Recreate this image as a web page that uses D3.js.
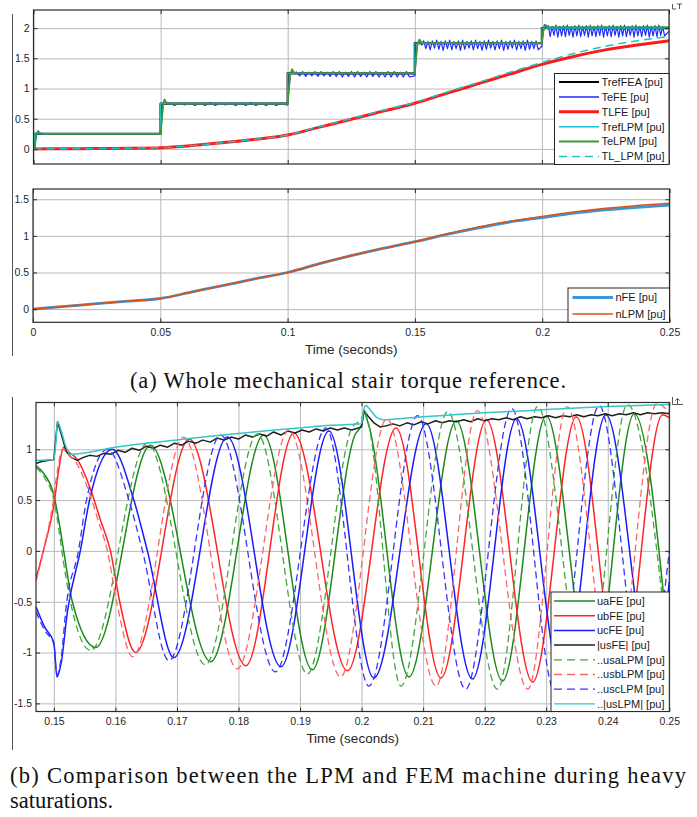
<!DOCTYPE html>
<html><head><meta charset="utf-8">
<script src="https://cdn.jsdelivr.net/npm/d3@7"></script>
<style>
html,body{margin:0;padding:0;background:#fff;}
svg{display:block;}
.tk{font-family:Arial,"Liberation Sans",Helvetica,sans-serif;font-size:10.5px;fill:#262626;}
.lg{font-family:Arial,"Liberation Sans",Helvetica,sans-serif;font-size:11px;fill:#1a1a1a;}
.xl{font-family:Arial,"Liberation Sans",Helvetica,sans-serif;font-size:13.5px;fill:#262626;}
.cap{font-family:"Liberation Serif","Times New Roman",serif;font-size:22.5px;fill:#111;}
</style>
</head><body>
<svg id="fig" width="697" height="817"></svg>
<script>
// ================= DATA =================
// ---- (a) top: torque [pu] vs time [s]
const refTimes  = [0, 0.0004, 0.05, 0.1, 0.15, 0.2, 0.25];
const refLevels = [0, 0.25, 0.75, 1.25, 1.75, 2.0, 2.0];
const teLPM = [[0,0],[0.0005,0.05],[0.0012,0.25],[0.0018,0.29],[0.0025,0.26],[0.004,0.25],[0.05,0.25],[0.0505,0.5],[0.051,0.72],[0.0515,0.82],[0.0522,0.77],[0.053,0.75],[0.1,0.75],[0.1005,1.0],[0.101,1.22],[0.1017,1.32],[0.1024,1.27],[0.103,1.255],[0.15,1.255],[0.1505,1.5],[0.151,1.72],[0.1518,1.81],[0.1525,1.77],[0.153,1.75],[0.2,1.75],[0.2005,1.92],[0.201,2.03],[0.2015,2.05],[0.2022,2.02],[0.203,2.015],[0.25,2.015]];
// TeFE (blue): transitions + ripple segments (values read per half-ripple)
const teFE_trans = [[0,0],[0.0005,0.06],[0.0012,0.25],[0.0018,0.30],[0.0025,0.25],[0.03,0.25],[0.031,0.24],[0.032,0.25],[0.05,0.25],[0.0505,0.5],[0.051,0.74],[0.0516,0.81],[0.0524,0.76],[0.1,0.73],[0.1005,1.0],[0.101,1.22],[0.1017,1.31],[0.1026,1.26],[0.15,1.21],[0.1505,1.5],[0.151,1.74],[0.1517,1.80],[0.1527,1.72],[0.2,1.70],[0.2005,1.95],[0.201,2.06],[0.2018,2.0],[0.25,1.95]];
const teFE_segStart = [0.0535, 0.1035, 0.1535, 0.2025];
const teFE_segStep  = [0.002, 0.0012, 0.00085, 0.00075];
const teFE_seg1 = [0.76,0.72,0.76,0.73,0.76,0.72,0.76,0.72,0.77,0.72,0.76,0.73,0.76,0.72,0.76,0.72,0.77,0.72,0.76,0.72,0.76,0.72,0.76,0.73];
const teFE_seg2 = [1.27,1.21,1.28,1.20,1.27,1.21,1.28,1.20,1.28,1.21,1.27,1.20,1.28,1.20,1.28,1.19,1.27,1.20,1.28,1.19,1.28,1.20,1.27,1.19,1.28,1.20,1.28,1.19,1.27,1.19,1.28,1.19,1.28,1.19,1.27,1.19,1.28,1.19];
const teFE_seg3 = [1.79,1.66,1.78,1.64,1.79,1.67,1.80,1.65,1.78,1.63,1.79,1.66,1.80,1.64,1.78,1.66,1.79,1.63,1.80,1.65,1.78,1.67,1.79,1.64,1.80,1.66,1.78,1.63,1.79,1.65,1.80,1.67,1.78,1.64,1.79,1.66,1.80,1.63,1.78,1.65,1.79,1.67,1.80,1.64,1.78,1.66,1.79,1.63,1.80,1.65,1.78,1.66,1.79,1.64];
const teFE_seg4 = [2.04,1.86,2.03,1.88,2.05,1.85,2.03,1.87,2.04,1.86,2.05,1.88,2.03,1.85,2.04,1.87,2.05,1.86,2.03,1.88,2.04,1.85,2.05,1.87,2.03,1.86,2.04,1.88,2.05,1.85,2.03,1.87,2.04,1.86,2.05,1.88,2.03,1.85,2.04,1.87,2.05,1.86,2.03,1.88,2.04,1.85,2.05,1.87,2.03,1.86,2.04,1.88,2.05,1.85,2.03,1.87,2.04,1.86,2.05,1.88,2.03,1.87];
// load torque
const tlTimes = [0,0.0125,0.025,0.0375,0.05,0.0625,0.075,0.0875,0.1,0.1125,0.125,0.1375,0.15,0.1625,0.175,0.1875,0.2,0.2125,0.225,0.2375,0.25];
const tlFE    = [0,0.002,0.005,0.011,0.02,0.055,0.105,0.16,0.23,0.36,0.49,0.625,0.755,0.92,1.08,1.24,1.40,1.53,1.64,1.72,1.79];
const tlLPM   = [0,0.002,0.005,0.011,0.02,0.055,0.105,0.16,0.23,0.37,0.50,0.64,0.77,0.94,1.10,1.27,1.43,1.58,1.70,1.79,1.86];
// ---- (a) bottom: speed [pu]
const nTimes = [0,0.0125,0.025,0.0375,0.05,0.0625,0.075,0.0875,0.1,0.1125,0.125,0.1375,0.15,0.1625,0.175,0.1875,0.2,0.2125,0.225,0.2375,0.25];
const nFE    = [0,0.037,0.074,0.11,0.145,0.235,0.325,0.415,0.50,0.62,0.73,0.83,0.92,1.02,1.11,1.19,1.25,1.31,1.355,1.39,1.42];
const nLPM   = [0,0.037,0.074,0.11,0.145,0.235,0.325,0.415,0.50,0.62,0.73,0.83,0.92,1.025,1.12,1.20,1.265,1.325,1.375,1.415,1.445];
// ---- (b) phase voltages [pu] : [time, value] read at extremes / key points
const uaFE = [[0.1471,0.84],[0.1485,0.75],[0.15,0.55],[0.1508,0.30],[0.1516,0.0],[0.153,-0.5],[0.1568,-0.95],[0.1657,1.04],[0.1755,-1.09],[0.1841,1.14],[0.192,-1.17],[0.199,1.15],[0.2,1.24],[0.2004,1.36],[0.201,1.27],[0.2077,-1.24],[0.2154,1.28],[0.2229,-1.28],[0.23,1.33],[0.2375,-1.33],[0.2443,1.35],[0.25,-1.0]];
const ubFE = [[0.1471,-0.27],[0.1485,0.05],[0.15,0.45],[0.1508,0.80],[0.1516,1.02],[0.1525,0.97],[0.1538,0.90],[0.156,0.60],[0.1576,0.30],[0.1592,0.0],[0.1607,-0.5],[0.1633,-1.0],[0.172,1.10],[0.1812,-1.13],[0.189,1.16],[0.1977,-1.18],[0.2056,1.21],[0.2129,-1.25],[0.2203,1.29],[0.2278,-1.29],[0.2349,1.32],[0.242,-1.33],[0.2489,1.34],[0.25,1.31]];
const ucFE = [[0.1471,-0.55],[0.1485,-0.75],[0.15,-0.90],[0.1505,-1.24],[0.1512,-1.10],[0.1522,-0.60],[0.1543,0.0],[0.1558,0.5],[0.1595,1.0],[0.163,0.5],[0.1652,0.0],[0.1695,-1.05],[0.1782,1.12],[0.1869,-1.14],[0.1947,1.18],[0.202,-1.25],[0.2105,1.25],[0.218,-1.26],[0.2252,1.30],[0.2327,-1.32],[0.2397,1.34],[0.2474,-1.34],[0.25,-0.3]];
const usFEabs = [[0.1471,0.86],[0.148,0.88],[0.149,0.89],[0.15,0.90],[0.1503,1.10],[0.1506,1.27],[0.1512,1.15],[0.152,0.98],[0.1528,0.92],[0.1538,0.89],[0.1548,0.92],[0.1558,0.94],[0.157,0.93],[0.1581,0.96],[0.1593,0.95],[0.1604,0.99],[0.1616,0.97],[0.1627,1.01],[0.1639,0.99],[0.165,1.03],[0.1662,1.01],[0.1673,1.04],[0.1685,1.02],[0.1696,1.06],[0.1708,1.04],[0.1719,1.08],[0.1731,1.06],[0.1742,1.09],[0.1754,1.07],[0.1765,1.11],[0.1777,1.09],[0.1788,1.12],[0.18,1.10],[0.1811,1.14],[0.1823,1.12],[0.1834,1.15],[0.1846,1.13],[0.1857,1.17],[0.1869,1.14],[0.188,1.18],[0.1892,1.16],[0.1903,1.19],[0.1915,1.17],[0.1926,1.20],[0.1938,1.18],[0.1949,1.21],[0.1961,1.19],[0.1972,1.21],[0.1984,1.19],[0.1995,1.21],[0.2,1.22],[0.2004,1.38],[0.201,1.33],[0.202,1.26],[0.203,1.22],[0.204,1.23],[0.2051,1.25],[0.2062,1.23],[0.2074,1.26],[0.2085,1.24],[0.2097,1.27],[0.2108,1.25],[0.212,1.28],[0.2131,1.26],[0.2143,1.28],[0.2154,1.27],[0.2166,1.29],[0.2177,1.27],[0.2189,1.30],[0.22,1.28],[0.2212,1.30],[0.2223,1.29],[0.2235,1.31],[0.2246,1.29],[0.2258,1.32],[0.2269,1.30],[0.2281,1.32],[0.2292,1.31],[0.2304,1.33],[0.2315,1.31],[0.2327,1.33],[0.2338,1.32],[0.235,1.34],[0.2361,1.32],[0.2373,1.34],[0.2384,1.33],[0.2396,1.35],[0.2407,1.33],[0.2419,1.35],[0.243,1.34],[0.2442,1.36],[0.2453,1.34],[0.2465,1.36],[0.2476,1.35],[0.2488,1.36],[0.25,1.35]];
const usaLPM = [[0.1471,0.82],[0.1485,0.72],[0.15,0.50],[0.1508,0.22],[0.1513,0.0],[0.1527,-0.5],[0.156,-0.98],[0.1652,1.06],[0.1746,-1.12],[0.1831,1.15],[0.1912,-1.21],[0.1985,1.22],[0.2,1.30],[0.2004,1.38],[0.201,1.28],[0.2064,-1.33],[0.214,1.37],[0.2221,-1.36],[0.2286,1.42],[0.2365,-1.40],[0.2432,1.44],[0.25,-1.1]];
const usbLPM = [[0.1471,-0.30],[0.1485,0.05],[0.1498,0.45],[0.1506,0.80],[0.1514,1.0],[0.1523,0.95],[0.1535,0.88],[0.1556,0.60],[0.1572,0.30],[0.1587,0.0],[0.1602,-0.5],[0.1628,-1.04],[0.1711,1.12],[0.1798,-1.16],[0.1882,1.19],[0.1966,-1.24],[0.2041,1.30],[0.2121,-1.33],[0.2188,1.38],[0.227,-1.36],[0.2334,1.42],[0.241,-1.40],[0.248,1.45],[0.25,1.36]];
const uscLPM = [[0.1471,-0.60],[0.1485,-0.78],[0.15,-0.92],[0.1505,-1.22],[0.1512,-1.05],[0.152,-0.55],[0.154,0.0],[0.1553,0.5],[0.1587,1.0],[0.1622,0.5],[0.1644,0.0],[0.1687,-1.08],[0.1771,1.14],[0.186,-1.19],[0.1942,1.21],[0.2012,-1.33],[0.2091,1.33],[0.2169,-1.36],[0.2244,1.40],[0.2315,-1.40],[0.2386,1.43],[0.246,-1.42],[0.25,0.0]];
const usLPMabs = [[0.1471,0.89],[0.15,0.90],[0.1503,1.05],[0.1506,1.27],[0.1512,1.18],[0.152,1.02],[0.1528,0.95],[0.154,0.955],[0.16,1.02],[0.165,1.06],[0.17,1.09],[0.175,1.125],[0.18,1.155],[0.185,1.185],[0.19,1.21],[0.195,1.235],[0.2,1.25],[0.2003,1.38],[0.2007,1.43],[0.2015,1.38],[0.2025,1.31],[0.2035,1.29],[0.205,1.295],[0.21,1.32],[0.215,1.34],[0.22,1.36],[0.225,1.375],[0.23,1.39],[0.235,1.405],[0.24,1.42],[0.245,1.43],[0.25,1.44]];
// ---- ticks / labels
const xTicksA = [0,0.05,0.1,0.15,0.2,0.25];
const xLabelsA = ["0","0.05","0.1","0.15","0.2","0.25"];
const yTicks1 = [0,0.5,1,1.5,2];
const yLabels1 = ["0","0.5","1","1.5","2"];
const yTicks2 = [0,0.5,1,1.5];
const yLabels2 = ["0","0.5","1","1.5"];
const xTicksB = [0.15,0.16,0.17,0.18,0.19,0.2,0.21,0.22,0.23,0.24,0.25];
const xLabelsB = ["0.15","0.16","0.17","0.18","0.19","0.2","0.21","0.22","0.23","0.24","0.25"];
const yTicks3 = [-1.5,-1,-0.5,0,0.5,1];
const yLabels3 = ["-1.5","-1","-0.5","0","0.5","1"];
const legend1 = ["TrefFEA [pu]","TeFE [pu]","TLFE [pu]","TrefLPM [pu]","TeLPM [pu]","TL_LPM [pu]"];
const legend2 = ["nFE [pu]","nLPM [pu]"];
const legend3 = ["uaFE [pu]","ubFE [pu]","ucFE [pu]","|usFE| [pu]","..usaLPM [pu]","..usbLPM [pu]","..uscLPM [pu]","..|usLPM| [pu]"];
const xTitle = "Time (seconds)";
const captionA = "(a) Whole mechanical stair torque reference.";
const captionB1 = "(b) Comparison between the LPM and FEM machine during heavy";
const captionB2 = "saturations.";

// ================= DRAW =================
const svg = d3.select("#fig");
const GRID = "#b9b9b9", AX = "#2b2b2b";

function frame(id, box, xd, yd, xt, xl, yt, yl, showX) {
  const x = d3.scaleLinear().domain(xd).range([box.x0, box.x1]);
  const y = d3.scaleLinear().domain(yd).range([box.y1, box.y0]);
  const g = svg.append("g");
  svg.append("defs").append("clipPath").attr("id", id)
    .append("rect").attr("x", box.x0).attr("y", box.y0).attr("width", box.x1 - box.x0).attr("height", box.y1 - box.y0);
  g.append("rect").attr("x", box.x0).attr("y", box.y0).attr("width", box.x1 - box.x0).attr("height", box.y1 - box.y0).attr("fill", "#fff");
  const gx = g.append("g").attr("transform", `translate(0,${box.y1})`)
    .call(d3.axisBottom(x).tickValues(xt).tickSize(-(box.y1 - box.y0)).tickFormat(""));
  const gy = g.append("g").attr("transform", `translate(${box.x0},0)`)
    .call(d3.axisLeft(y).tickValues(yt).tickSize(-(box.x1 - box.x0)).tickFormat(""));
  [gx, gy].forEach(a => { a.select(".domain").remove(); a.selectAll("line").attr("stroke", GRID).attr("stroke-width", 1); });
  const layer = g.append("g").attr("clip-path", `url(#${id})`);
  return { x, y, g, layer, box, xt, xl, yt, yl, showX };
}
function finishAxes(f) {
  const { x, y, g, box, xt, xl, yt, yl, showX } = f;
  const ax = g.append("g");
  const bottom = ax.append("g").attr("transform", `translate(0,${box.y1})`)
    .call(d3.axisBottom(x).tickValues(xt).tickSize(-4).tickPadding(6).tickFormat((d, i) => showX ? xl[i] : ""));
  const top = ax.append("g").attr("transform", `translate(0,${box.y0})`)
    .call(d3.axisTop(x).tickValues(xt).tickSize(-4).tickFormat(""));
  const left = ax.append("g").attr("transform", `translate(${box.x0},0)`)
    .call(d3.axisLeft(y).tickValues(yt).tickSize(-4).tickPadding(4).tickFormat((d, i) => yl[i]));
  const right = ax.append("g").attr("transform", `translate(${box.x1},0)`)
    .call(d3.axisRight(y).tickValues(yt).tickSize(-4).tickFormat(""));
  [bottom, top, left, right].forEach(a => {
    a.select(".domain").remove();
    a.selectAll("line").attr("stroke", AX).attr("stroke-width", 1);
    a.selectAll("text").attr("class", "tk").attr("fill", null).attr("font-family", null).attr("font-size", null);
  });
  bottom.selectAll("text").attr("dy", "0.71em");
  ax.append("rect").attr("x", box.x0).attr("y", box.y0).attr("width", box.x1 - box.x0).attr("height", box.y1 - box.y0)
    .attr("fill", "none").attr("stroke", AX).attr("stroke-width", 1.2);
}
function path(layer, data, x, y, color, width, dash, curve) {
  const line = d3.line().x(d => x(d[0])).y(d => y(d[1])).curve(curve || d3.curveLinear);
  const p = layer.append("path").datum(data).attr("d", line).attr("fill", "none")
    .attr("stroke", color).attr("stroke-width", width).attr("stroke-linejoin", "round");
  if (dash) p.attr("stroke-dasharray", dash);
  return p;
}
function legend(box, items, startY, gap, sx0, sx1, tx) {
  const g = svg.append("g");
  g.append("rect").attr("x", box.x0).attr("y", box.y0).attr("width", box.x1 - box.x0).attr("height", box.y1 - box.y0)
    .attr("fill", "#fff").attr("stroke", "#262626").attr("stroke-width", 1);
  items.forEach((it, i) => {
    const yy = startY + i * gap;
    const l = g.append("line").attr("x1", sx0).attr("x2", sx1).attr("y1", yy).attr("y2", yy)
      .attr("stroke", it.c).attr("stroke-width", it.w);
    if (it.d) l.attr("stroke-dasharray", it.d);
    g.append("text").attr("class", "lg").attr("x", tx).attr("y", yy).attr("dy", "0.35em").text(it.t);
  });
}

// ---------- Plot 1 ----------
const p1 = frame("c1", { x0: 33.5, x1: 669, y0: 10, y1: 164 }, [0, 0.25], [-0.25, 2.3], xTicksA, xLabelsA, yTicks1, yLabels1, false);
const refPts = refTimes.map((t, i) => [t, refLevels[i]]);
const teFE = teFE_trans.concat(
  teFE_seg1.map((v, i) => [teFE_segStart[0] + i * teFE_segStep[0], v]),
  teFE_seg2.map((v, i) => [teFE_segStart[1] + i * teFE_segStep[1], v]),
  teFE_seg3.map((v, i) => [teFE_segStart[2] + i * teFE_segStep[2], v]),
  teFE_seg4.map((v, i) => [teFE_segStart[3] + i * teFE_segStep[3], v])
).sort((a, b) => a[0] - b[0]);
const C1 = { ref: "#000000", te: "#1f2bff", tl: "#ff1a1a", refL: "#1cc3c9", teL: "#3d9b3d", tlL: "#1cc3c9" };
path(p1.layer, refPts, p1.x, p1.y, C1.ref, 2.2, null, d3.curveStepAfter);
path(p1.layer, teFE, p1.x, p1.y, C1.te, 1.2);
path(p1.layer, tlTimes.map((t, i) => [t, tlFE[i]]), p1.x, p1.y, C1.tl, 3, null, d3.curveMonotoneX);
path(p1.layer, refPts, p1.x, p1.y, C1.refL, 1.2, null, d3.curveStepAfter);
path(p1.layer, teLPM, p1.x, p1.y, C1.teL, 1.8);
path(p1.layer, tlTimes.map((t, i) => [t, tlLPM[i]]), p1.x, p1.y, C1.tlL, 1.5, "8,5", d3.curveMonotoneX);
finishAxes(p1);
legend({ x0: 554.5, x1: 669, y0: 73.5, y1: 164.5 }, [
  { t: legend1[0], c: C1.ref, w: 2 }, { t: legend1[1], c: C1.te, w: 1.5 }, { t: legend1[2], c: C1.tl, w: 3 },
  { t: legend1[3], c: C1.refL, w: 1.5 }, { t: legend1[4], c: C1.teL, w: 2 }, { t: legend1[5], c: C1.tlL, w: 1.5, d: "8,5" }
], 82, 14.9, 559, 599, 601.5);

// ---------- Plot 2 ----------
const p2 = frame("c2", { x0: 33, x1: 669.5, y0: 189, y1: 322.3 }, [0, 0.25], [-0.18, 1.64], xTicksA, xLabelsA, yTicks2, yLabels2, true);
const C2 = { fe: "#3a96d8", lpm: "#d95319" };
path(p2.layer, nTimes.map((t, i) => [t, nFE[i]]), p2.x, p2.y, C2.fe, 2.8, null, d3.curveMonotoneX);
path(p2.layer, nTimes.map((t, i) => [t, nLPM[i]]), p2.x, p2.y, C2.lpm, 1.6, null, d3.curveMonotoneX);
finishAxes(p2);
legend({ x0: 568, x1: 669.5, y0: 288, y1: 322.3 }, [
  { t: legend2[0], c: C2.fe, w: 3 }, { t: legend2[1], c: C2.lpm, w: 1.6 }
], 297.5, 16.5, 572.5, 613, 615.5);
svg.append("text").attr("class", "xl").attr("x", (33 + 669.5) / 2).attr("y", 354).attr("text-anchor", "middle").text(xTitle);

// ---------- Plot 3 ----------
const p3 = frame("c3", { x0: 36, x1: 669.3, y0: 402.5, y1: 711.5 }, [0.1471, 0.25], [-1.58, 1.46], xTicksB, xLabelsB, yTicks3, yLabels3, true);
const C3 = { a: "#1b8a1b", b: "#ff2424", c: "#1a1aff", abs: "#1f1f1f", aL: "#3fa83f", bL: "#ff6464", cL: "#3535ff", absL: "#35c6c6" };
const mono = d3.curveMonotoneX;
path(p3.layer, uaFE, p3.x, p3.y, C3.a, 1.5, null, mono);
path(p3.layer, ubFE, p3.x, p3.y, C3.b, 1.5, null, mono);
path(p3.layer, ucFE, p3.x, p3.y, C3.c, 1.5, null, mono);
path(p3.layer, usFEabs, p3.x, p3.y, C3.abs, 1.5, null, d3.curveLinear);
path(p3.layer, usaLPM, p3.x, p3.y, C3.aL, 1.3, "7,4", mono);
path(p3.layer, usbLPM, p3.x, p3.y, C3.bL, 1.3, "7,4", mono);
path(p3.layer, uscLPM, p3.x, p3.y, C3.cL, 1.3, "7,4", mono);
path(p3.layer, usLPMabs, p3.x, p3.y, C3.absL, 1.5, null, mono);
finishAxes(p3);
legend({ x0: 551, x1: 669.3, y0: 592, y1: 711.5 }, [
  { t: legend3[0], c: C3.a, w: 1.5 }, { t: legend3[1], c: C3.b, w: 1.5 }, { t: legend3[2], c: C3.c, w: 1.5 },
  { t: legend3[3], c: C3.abs, w: 1.5 }, { t: legend3[4], c: C3.aL, w: 1.3, d: "8,5" }, { t: legend3[5], c: C3.bL, w: 1.3, d: "8,5" },
  { t: legend3[6], c: C3.cL, w: 1.3, d: "8,5" }, { t: legend3[7], c: C3.absL, w: 1.3 }
], 601, 14.7, 554, 595, 597);
svg.append("text").attr("class", "xl").attr("x", (36 + 669.3) / 2).attr("y", 743).attr("text-anchor", "middle").text(xTitle);

// ---------- decorations: figure edge lines, toolbar glyphs ----------
svg.append("line").attr("x1", 12.5).attr("x2", 12.5).attr("y1", 14).attr("y2", 356).attr("stroke", "#555").attr("stroke-width", 1);
svg.append("line").attr("x1", 12.5).attr("x2", 12.5).attr("y1", 397).attr("y2", 750).attr("stroke", "#555").attr("stroke-width", 1);
svg.append("path").attr("d", "M672.5,4 V9 H676 M677,4 H682 M679.5,4 V9").attr("fill", "none").attr("stroke", "#444").attr("stroke-width", 0.9);
svg.append("path").attr("d", "M672.5,397 V404.5 H683 M677.5,398.5 V404 M675.3,400.7 L677.5,398.5 L679.7,400.7").attr("fill", "none").attr("stroke", "#444").attr("stroke-width", 0.9);

// ---------- captions ----------
svg.append("text").attr("class", "cap").attr("x", 130).attr("y", 388).attr("textLength", 436).attr("lengthAdjust", "spacing").text(captionA);
svg.append("text").attr("class", "cap").attr("x", 10).attr("y", 782.5).attr("textLength", 676).attr("lengthAdjust", "spacing").text(captionB1);
svg.append("text").attr("class", "cap").attr("x", 10).attr("y", 807.5).text(captionB2);
</script>
</body></html>
